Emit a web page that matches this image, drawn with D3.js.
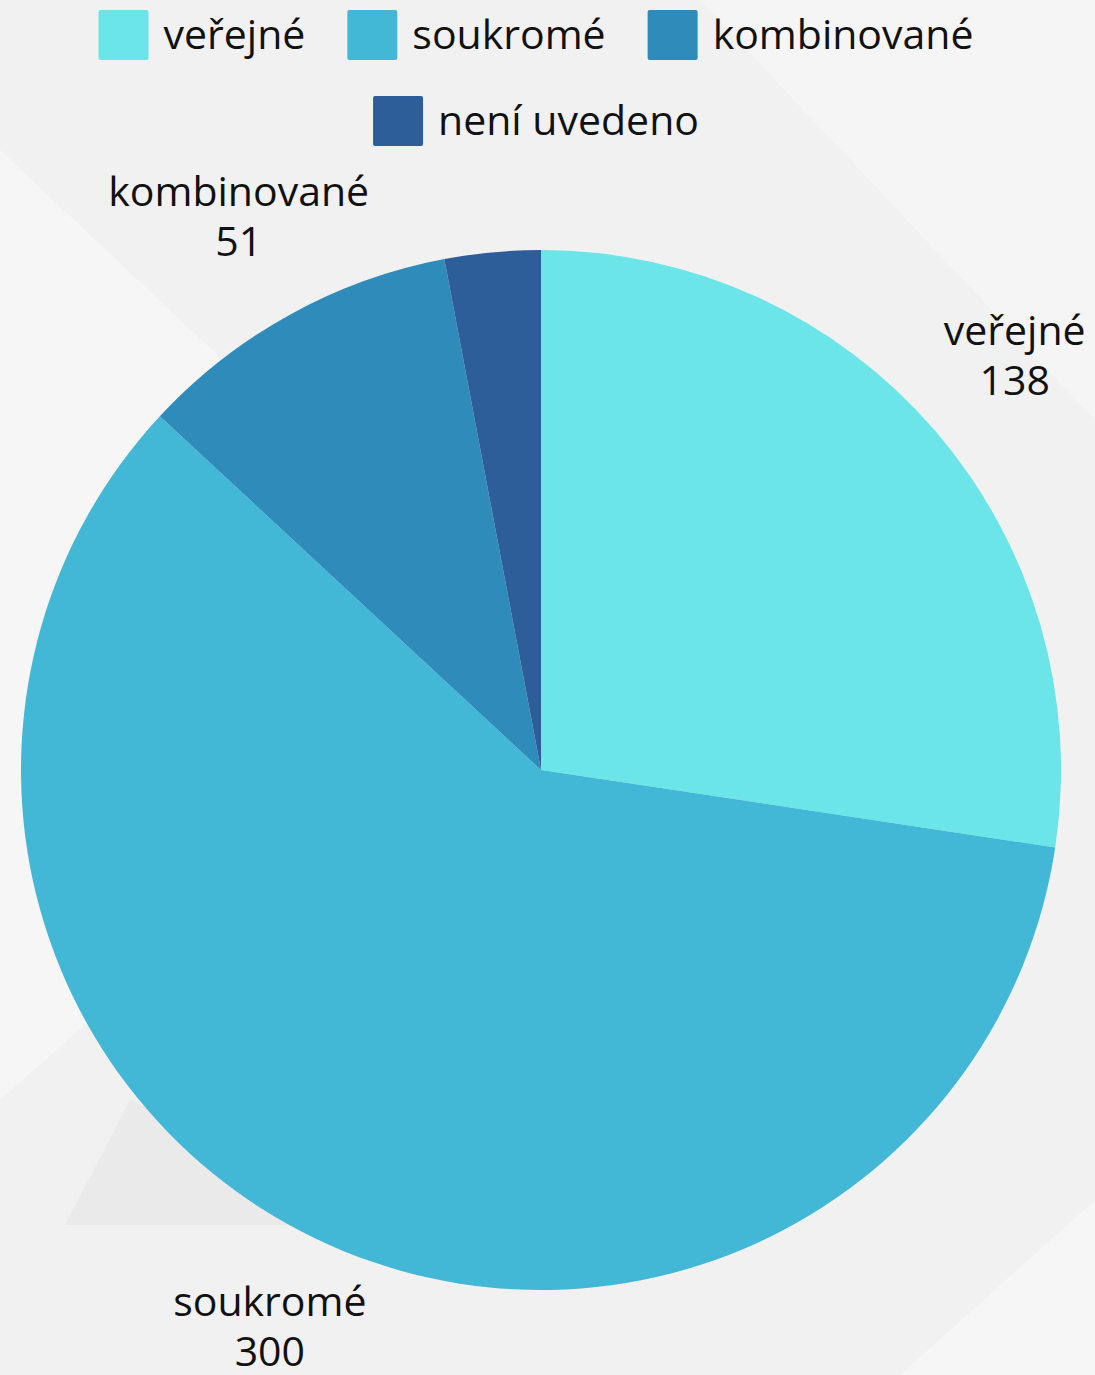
<!DOCTYPE html>
<html>
<head>
  <meta charset="utf-8">
  <title>Pie chart</title>
  <script src="https://d3js.org/d3.v7.min.js"></script>
  <style>
    body { margin: 0; background: #f1f1f1; }
    text { font-family: "Open Sans", "Noto Sans", sans-serif; fill: #111; }
    .legend-label { font-size: 41px; }
    .slice-label { font-size: 41px; text-anchor: middle; }
  </style>
</head>
<body>
  <script>
    var categories = ["veřejné", "soukromé", "kombinované", "není uvedeno"];
    var values = [138, 300, 51, 15];
    var colors = ["#6ce5e8", "#42b7d6", "#2e8bba", "#2e5e99"];
    var labelled = [true, true, true, false];

    var width = 1095, height = 1375;
    var cx = 541, cy = 770, radius = 520, labelRadius = 625;

    var svg = d3.select("body").append("svg")
        .attr("width", width)
        .attr("height", height);

    // faint background shapes
    var bg = svg.append("g");
    bg.append("rect").attr("width", width).attr("height", height).attr("fill", "#f1f1f1");
    bg.append("polygon").attr("points", "0,150 520,640 0,1100").attr("fill", "#ffffff").attr("opacity", 0.35);
    bg.append("polygon").attr("points", "65,1225 130,1100 420,1225").attr("fill", "#e6e6e6").attr("opacity", 0.6);
    bg.append("polygon").attr("points", "700,0 1095,0 1095,420").attr("fill", "#ffffff").attr("opacity", 0.3);
    bg.append("polygon").attr("points", "900,1375 1095,1200 1095,1375").attr("fill", "#ffffff").attr("opacity", 0.35);

    var data = categories.map(function(c, i) {
      return { name: c, value: values[i], color: colors[i], labelled: labelled[i] };
    });

    var pie = d3.pie().sort(null).value(d => d.value);
    var arc = d3.arc().innerRadius(0).outerRadius(radius);
    var labelArc = d3.arc().innerRadius(labelRadius).outerRadius(labelRadius);

    var g = svg.append("g").attr("transform", "translate(" + cx + "," + cy + ")");
    var arcs = pie(data);

    g.selectAll("path")
        .data(arcs)
      .enter().append("path")
        .attr("d", arc)
        .attr("fill", d => d.data.color);

    var labels = g.selectAll(".slice-label")
        .data(arcs.filter(d => d.data.labelled))
      .enter().append("text")
        .attr("class", "slice-label")
        .attr("transform", d => "translate(" + labelArc.centroid(d) + ")");
    labels.append("tspan").attr("x", 0).attr("dy", "-0.42em").text(d => d.data.name);
    labels.append("tspan").attr("x", 0).attr("dy", "1.22em").text(d => d.data.value);

    // legend
    var legendRows = [[0, 1, 2], [3]];
    var boxSize = 50, gap = 15, itemGap = 42;
    var legend = svg.append("g");
    legendRows.forEach(function(row, r) {
      var rowG = legend.append("g");
      var xPos = 0;
      row.forEach(function(i) {
        var item = rowG.append("g").attr("transform", "translate(" + xPos + ",0)");
        item.append("rect")
            .attr("width", boxSize).attr("height", boxSize)
            .attr("rx", 2)
            .attr("fill", colors[i]);
        var t = item.append("text")
            .attr("class", "legend-label")
            .attr("x", boxSize + gap)
            .attr("y", boxSize / 2)
            .attr("dy", "0.35em")
            .text(categories[i]);
        xPos += boxSize + gap + t.node().getComputedTextLength() + itemGap;
      });
      var rowWidth = xPos - itemGap;
      rowG.attr("transform", "translate(" + (536 - rowWidth / 2) + "," + (10 + r * 86) + ")");
    });
  </script>
</body>
</html>
